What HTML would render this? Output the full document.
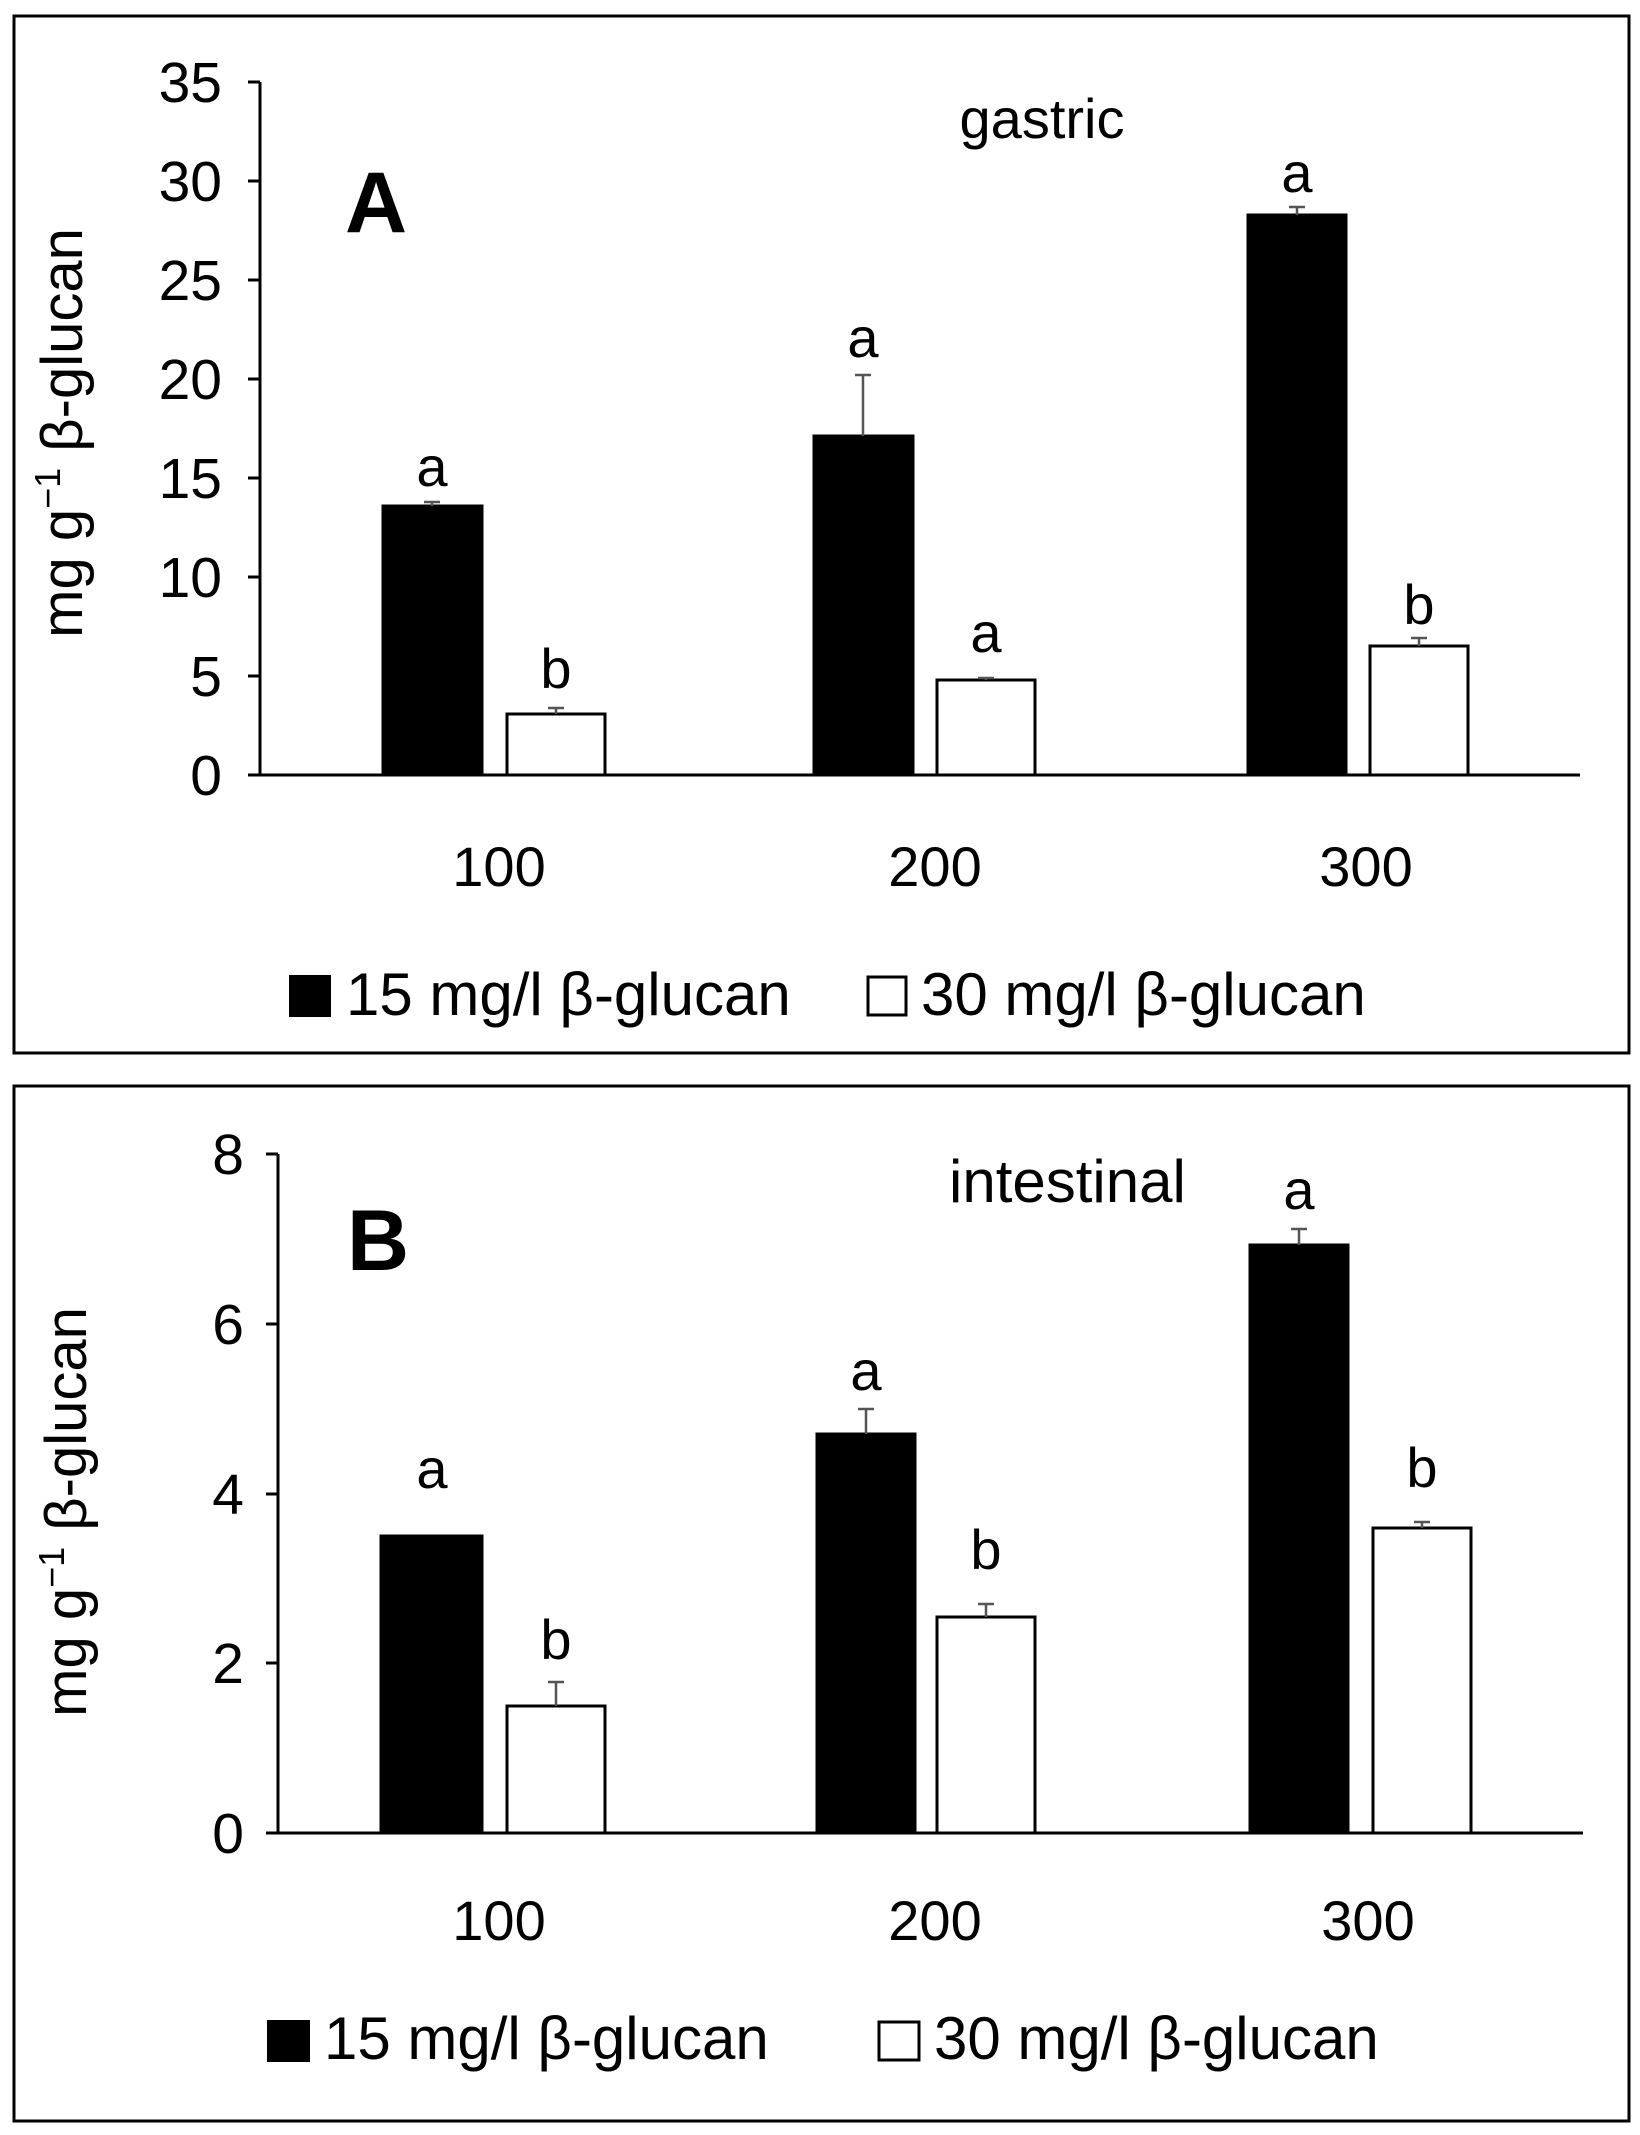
<!DOCTYPE html>
<html><head><meta charset="utf-8"><style>html,body{margin:0;padding:0;background:#fff}svg{display:block}</style></head>
<body>
<svg width="1640" height="2135" viewBox="0 0 1640 2135" xmlns="http://www.w3.org/2000/svg" font-family="Liberation Sans, sans-serif">
<rect x="14" y="16" width="1615" height="1037" fill="#fff" stroke="#000" stroke-width="3"/>
<rect x="14" y="1086" width="1615" height="1035" fill="#fff" stroke="#000" stroke-width="3"/>
<g stroke="#000" stroke-width="3" fill="none">
<line x1="260" y1="82" x2="260" y2="775"/><line x1="260" y1="775" x2="1580" y2="775"/>
<line x1="248" y1="82" x2="260" y2="82"/><line x1="248" y1="181" x2="260" y2="181"/><line x1="248" y1="280" x2="260" y2="280"/><line x1="248" y1="379" x2="260" y2="379"/><line x1="248" y1="478" x2="260" y2="478"/><line x1="248" y1="577" x2="260" y2="577"/><line x1="248" y1="676" x2="260" y2="676"/><line x1="248" y1="775" x2="260" y2="775"/>
<line x1="278" y1="1154" x2="278" y2="1833"/><line x1="278" y1="1833" x2="1583" y2="1833"/>
<line x1="266" y1="1154" x2="278" y2="1154"/><line x1="266" y1="1324" x2="278" y2="1324"/><line x1="266" y1="1494" x2="278" y2="1494"/><line x1="266" y1="1663" x2="278" y2="1663"/><line x1="266" y1="1833" x2="278" y2="1833"/>
</g>
<g font-size="57" text-anchor="end" fill="#000">
<text x="222" y="102">35</text><text x="222" y="201">30</text><text x="222" y="300">25</text><text x="222" y="399">20</text><text x="222" y="498">15</text><text x="222" y="597">10</text><text x="222" y="696">5</text><text x="222" y="795">0</text>
<text x="244" y="1174">8</text><text x="244" y="1344">6</text><text x="244" y="1514">4</text><text x="244" y="1683">2</text><text x="244" y="1853">0</text>
</g>
<g stroke="#000" stroke-width="3">
<rect x="383" y="506" width="99" height="269" fill="#000"/>
<rect x="507" y="714" width="98" height="61" fill="#fff"/>
<rect x="814" y="436" width="99" height="339" fill="#000"/>
<rect x="937" y="680" width="98" height="95" fill="#fff"/>
<rect x="1248" y="215" width="98" height="560" fill="#000"/>
<rect x="1370" y="646" width="98" height="129" fill="#fff"/>
</g>
<g stroke="#555" stroke-width="2.5">
<line x1="432" y1="506" x2="432" y2="502"/><line x1="424" y1="502" x2="440" y2="502"/>
<line x1="556" y1="714" x2="556" y2="708"/><line x1="548" y1="708" x2="564" y2="708"/>
<line x1="863" y1="436" x2="863" y2="375"/><line x1="855" y1="375" x2="871" y2="375"/>
<line x1="986" y1="680" x2="986" y2="678"/><line x1="978" y1="678" x2="994" y2="678"/>
<line x1="1297" y1="215" x2="1297" y2="207"/><line x1="1289" y1="207" x2="1305" y2="207"/>
<line x1="1419" y1="646" x2="1419" y2="638"/><line x1="1411" y1="638" x2="1427" y2="638"/>
</g>
<g font-size="56" text-anchor="middle" fill="#000">
<text x="432" y="486">a</text><text x="556" y="688">b</text>
<text x="863" y="357">a</text><text x="986" y="652">a</text>
<text x="1297" y="192">a</text><text x="1419" y="624">b</text>
<text x="499" y="886">100</text><text x="935" y="886">200</text><text x="1366" y="886">300</text>
<text x="1042" y="138">gastric</text>
</g>
<text x="345" y="232" font-size="86" font-weight="bold">A</text>
<text transform="translate(82,433) rotate(-90)" font-size="58" text-anchor="middle">mg g<tspan font-size="36" dy="-22">−1</tspan><tspan dy="22"> β-glucan</tspan></text>
<rect x="289" y="975" width="42" height="42" fill="#000"/>
<text x="346" y="1015" font-size="60">15 mg/l β-glucan</text>
<rect x="868" y="977" width="38" height="38" fill="#fff" stroke="#000" stroke-width="3"/>
<text x="921" y="1015" font-size="60">30 mg/l β-glucan</text>
<g stroke="#000" stroke-width="3">
<rect x="381" y="1536" width="101" height="297" fill="#000"/>
<rect x="507" y="1706" width="98" height="127" fill="#fff"/>
<rect x="817" y="1434" width="98" height="399" fill="#000"/>
<rect x="937" y="1617" width="98" height="216" fill="#fff"/>
<rect x="1250" y="1245" width="98" height="588" fill="#000"/>
<rect x="1373" y="1528" width="98" height="305" fill="#fff"/>
</g>
<g stroke="#555" stroke-width="2.5">
<line x1="556" y1="1706" x2="556" y2="1682"/><line x1="548" y1="1682" x2="564" y2="1682"/>
<line x1="866" y1="1434" x2="866" y2="1409"/><line x1="858" y1="1409" x2="874" y2="1409"/>
<line x1="986" y1="1617" x2="986" y2="1604"/><line x1="978" y1="1604" x2="994" y2="1604"/>
<line x1="1299" y1="1245" x2="1299" y2="1229"/><line x1="1291" y1="1229" x2="1307" y2="1229"/>
<line x1="1422" y1="1528" x2="1422" y2="1522"/><line x1="1414" y1="1522" x2="1430" y2="1522"/>
</g>
<g font-size="56" text-anchor="middle" fill="#000">
<text x="432" y="1488">a</text><text x="556" y="1659">b</text>
<text x="866" y="1390">a</text><text x="986" y="1569">b</text>
<text x="1299" y="1209">a</text><text x="1422" y="1487">b</text>
<text x="499" y="1940">100</text><text x="935" y="1940">200</text><text x="1368" y="1940">300</text>
</g>
<text x="949" y="1202" font-size="60">intestinal</text>
<text x="347" y="1270" font-size="86" font-weight="bold">B</text>
<text transform="translate(86,1512) rotate(-90)" font-size="58" text-anchor="middle">mg g<tspan font-size="36" dy="-22">−1</tspan><tspan dy="22"> β-glucan</tspan></text>
<rect x="267" y="2020" width="43" height="42" fill="#000"/>
<text x="324" y="2059" font-size="60">15 mg/l β-glucan</text>
<rect x="879" y="2022" width="40" height="38" fill="#fff" stroke="#000" stroke-width="3"/>
<text x="934" y="2059" font-size="60">30 mg/l β-glucan</text>
</svg>
</body></html>
